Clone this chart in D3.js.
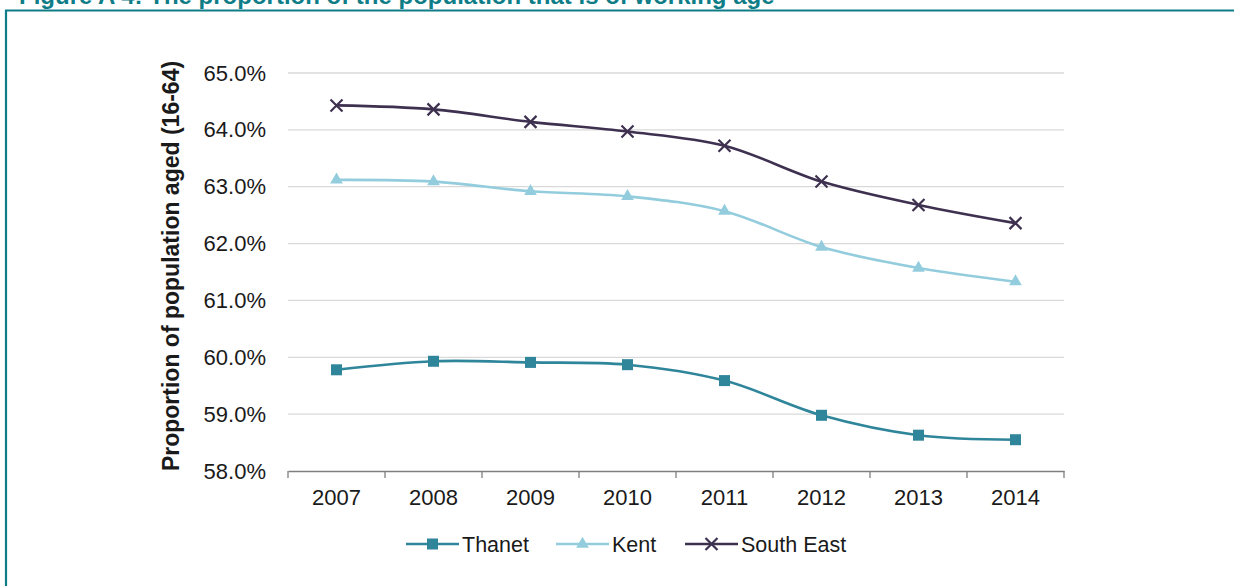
<!DOCTYPE html>
<html><head><meta charset="utf-8">
<script src="https://cdn.jsdelivr.net/npm/d3@7"></script>
<style>body{margin:0;background:#fff;}svg{display:block;font-family:"Liberation Sans",Arial,sans-serif;}</style>
</head><body>
<svg id="c" width="1234" height="586"></svg>
<script>
const years = ["2007","2008","2009","2010","2011","2012","2013","2014"];
const thanet = [59.78, 59.93, 59.91, 59.87, 59.59, 58.98, 58.63, 58.55];
const kent = [63.12, 63.09, 62.92, 62.83, 62.57, 61.94, 61.57, 61.33];
const southEast = [64.43, 64.36, 64.14, 63.97, 63.72, 63.09, 62.68, 62.36];
const yTicks = [58, 59, 60, 61, 62, 63, 64, 65];
const seriesNames = ["Thanet", "Kent", "South East"];
const title = "Figure A 4: The proportion of the population that is of working age";
const yTitle = "Proportion of population aged (16-64)";

const svg = d3.select("#c");
const teal = "#0f7d87";
const FF = "Liberation Sans, Arial, sans-serif";
// frame
svg.append("text").attr("x", 19).attr("y", 4).attr("font-size", 24).attr("font-weight", "bold")
  .attr("fill", teal).text(title);
svg.append("path").attr("d", "M6,586 V10.5 H1234").attr("fill", "none").attr("stroke", teal).attr("stroke-width", 2.2);

const x = d3.scaleBand().domain(years).range([288, 1064]);
const y = d3.scaleLinear().domain([58, 65]).range([471, 73]);

// gridlines
svg.append("g").selectAll("line").data(yTicks.slice(1)).join("line")
  .attr("x1", 288).attr("x2", 1064).attr("y1", d => y(d)).attr("y2", d => y(d))
  .attr("stroke", "#d9d9d9").attr("stroke-width", 1.3);

// y axis labels
const ya = svg.append("g").attr("transform", "translate(288,0)")
  .call(d3.axisLeft(y).tickValues(yTicks).tickFormat(d => d.toFixed(1) + "%").tickSize(0).tickPadding(22));
ya.select(".domain").remove();
ya.selectAll("text").attr("font-size", 22).attr("fill", "#1a1a1a").attr("font-family", FF);

// x axis
const xa = svg.append("g").attr("transform", "translate(0,471)")
  .call(d3.axisBottom(x).tickSize(0).tickPadding(18));
xa.select(".domain").attr("stroke", "#7f7f7f").attr("stroke-width", 1.3);
xa.selectAll("text").attr("font-size", 22).attr("fill", "#1a1a1a").attr("font-family", FF);
const bounds = years.map(d => x(d)).concat([x(years[years.length-1]) + x.bandwidth()]);
svg.append("g").selectAll("line").data(bounds).join("line")
  .attr("x1", d => d).attr("x2", d => d).attr("y1", 471).attr("y2", 478)
  .attr("stroke", "#7f7f7f").attr("stroke-width", 1.3);

// y title
svg.append("text").attr("transform", "translate(179,266) rotate(-90)").attr("text-anchor", "middle")
  .attr("font-size", 23).attr("font-weight", "bold").attr("fill", "#1a1a1a").text(yTitle);

const colors = ["#2f859a", "#93cddd", "#3e3150"];
const data = [thanet, kent, southEast];
const cx = d => x(d) + x.bandwidth() / 2;
const line = d3.line().x((d, i) => cx(years[i])).y(d => y(d)).curve(d3.curveCatmullRom.alpha(0.5));

function marker(g, type, color) {
  if (type === 0) g.append("rect").attr("x", -5.5).attr("y", -5.5).attr("width", 11).attr("height", 11).attr("fill", color);
  else if (type === 1) g.append("path").attr("d", d3.symbol(d3.symbolTriangle, 70)()).attr("fill", color);
  else g.append("path").attr("d", "M-6,-6L6,6M-6,6L6,-6").attr("stroke", color).attr("stroke-width", 2.2).attr("fill", "none");
}

data.forEach((vals, s) => {
  svg.append("path").datum(vals).attr("d", line).attr("fill", "none").attr("stroke", colors[s]).attr("stroke-width", 2.6);
  vals.forEach((v, i) => {
    const g = svg.append("g").attr("transform", `translate(${cx(years[i])},${y(v)})`);
    marker(g, s, colors[s]);
  });
});

// legend
const legX = [406, 556, 685];
seriesNames.forEach((n, s) => {
  const g = svg.append("g").attr("transform", `translate(${legX[s]},544)`);
  g.append("line").attr("x1", 0).attr("x2", 53).attr("stroke", colors[s]).attr("stroke-width", 2.6);
  const m = g.append("g").attr("transform", "translate(26.5,0)");
  marker(m, s, colors[s]);
  g.append("text").attr("x", 56).attr("y", 8).attr("font-size", 21.5).attr("fill", "#1a1a1a").text(n);
});
</script>
</body></html>
